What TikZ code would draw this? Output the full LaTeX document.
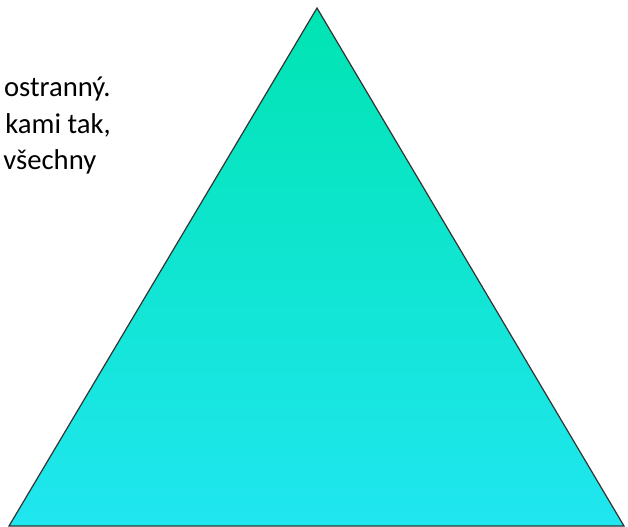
\documentclass[tikz,border=0pt]{standalone}
\usepackage{fontspec}
\setmainfont{Carlito}
\definecolor{tritop}{RGB}{0,228,178}
\definecolor{tribottom}{RGB}{32,230,240}
\begin{document}
\begin{tikzpicture}[x=0.75pt, y=-0.75pt, every node/.style={font=\fontsize{21.5}{26}\selectfont, inner sep=0pt}]

% =========================
% PAGE
% =========================
\useasboundingbox (0,0) rectangle (628,526);

% Text (cut at the left edge)
\node[anchor=base east] (lineA) at (111,96) {ostranný.};
\node[anchor=base east] (lineB) at (111,133) {kami tak,};
\node[anchor=base west] (lineC) at (3,169) {všechny};

% =========================
% TRIANGLE
% =========================
\shade[top color=tritop, bottom color=tribottom]
(317,8) --
(624,526) --
(9,526) -- cycle;
\draw[line width=0.9pt, black!80]
(317,8) --
(624,526) --
(9,526) -- cycle;

\end{tikzpicture}
\end{document}
